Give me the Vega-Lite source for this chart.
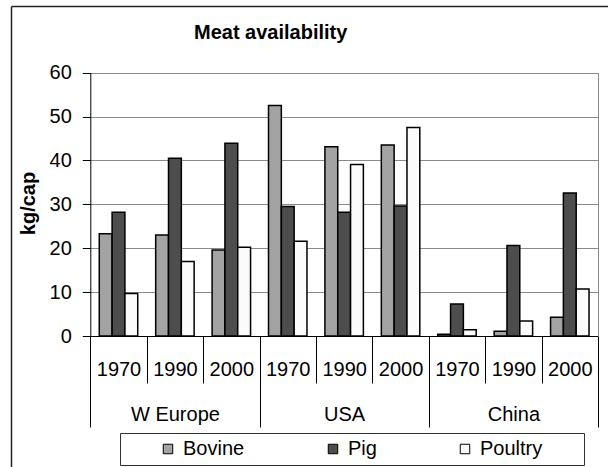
{
  "$schema": "https://vega.github.io/schema/vega-lite/v6.json",
  "width": 597,
  "height": 461,
  "autosize": {"type": "none"},
  "padding": {"left": 11, "top": 6, "right": 0, "bottom": 0},
  "background": "white",
  "title": {
    "text": "Meat availability",
    "anchor": "start",
    "frame": "group",
    "dx": 183,
    "offset": -53,
    "baseline": "alphabetic",
    "fontSize": 20,
    "fontWeight": "bold",
    "color": "#000"
  },
  "datasets": {
    "meat": [
      {"region": "W Europe", "year": "1970", "meat": "Bovine", "kg": 23.3},
      {"region": "W Europe", "year": "1970", "meat": "Pig", "kg": 28.2},
      {"region": "W Europe", "year": "1970", "meat": "Poultry", "kg": 9.7},
      {"region": "W Europe", "year": "1990", "meat": "Bovine", "kg": 23.0},
      {"region": "W Europe", "year": "1990", "meat": "Pig", "kg": 40.5},
      {"region": "W Europe", "year": "1990", "meat": "Poultry", "kg": 17.0},
      {"region": "W Europe", "year": "2000", "meat": "Bovine", "kg": 19.6},
      {"region": "W Europe", "year": "2000", "meat": "Pig", "kg": 43.9},
      {"region": "W Europe", "year": "2000", "meat": "Poultry", "kg": 20.2},
      {"region": "USA", "year": "1970", "meat": "Bovine", "kg": 52.5},
      {"region": "USA", "year": "1970", "meat": "Pig", "kg": 29.5},
      {"region": "USA", "year": "1970", "meat": "Poultry", "kg": 21.6},
      {"region": "USA", "year": "1990", "meat": "Bovine", "kg": 43.1},
      {"region": "USA", "year": "1990", "meat": "Pig", "kg": 28.2},
      {"region": "USA", "year": "1990", "meat": "Poultry", "kg": 39.1},
      {"region": "USA", "year": "2000", "meat": "Bovine", "kg": 43.5},
      {"region": "USA", "year": "2000", "meat": "Pig", "kg": 29.6},
      {"region": "USA", "year": "2000", "meat": "Poultry", "kg": 47.5},
      {"region": "China", "year": "1970", "meat": "Bovine", "kg": 0.4},
      {"region": "China", "year": "1970", "meat": "Pig", "kg": 7.3},
      {"region": "China", "year": "1970", "meat": "Poultry", "kg": 1.4},
      {"region": "China", "year": "1990", "meat": "Bovine", "kg": 1.1},
      {"region": "China", "year": "1990", "meat": "Pig", "kg": 20.6},
      {"region": "China", "year": "1990", "meat": "Poultry", "kg": 3.4},
      {"region": "China", "year": "2000", "meat": "Bovine", "kg": 4.3},
      {"region": "China", "year": "2000", "meat": "Pig", "kg": 32.6},
      {"region": "China", "year": "2000", "meat": "Poultry", "kg": 10.7}
    ],
    "regions": [
      {"region": "W Europe"},
      {"region": "USA"},
      {"region": "China"}
    ]
  },
  "layer": [
    {
      "data": {"name": "meat"},
      "transform": [{"calculate": "datum.region + '|' + datum.year", "as": "slot"}],
      "mark": {"type": "bar", "stroke": "#000", "strokeWidth": 1.5},
      "encoding": {
        "x": {
          "field": "slot",
          "type": "nominal",
          "sort": null,
          "scale": {"type": "band", "range": [79.3, 587], "paddingInner": 0, "paddingOuter": 0},
          "axis": {
            "title": null,
            "orient": "bottom",
            "offset": -131,
            "domainColor": "#000",
            "tickColor": "#000",
            "tickBand": "extent",
            "tickSize": 47,
            "labelPadding": -24,
            "labelExpr": "split(datum.label, '|')[1]",
            "labelFontSize": 20,
            "labelAngle": 0,
            "labelOverlap": false,
            "labelColor": "#000",
            "grid": false
          }
        },
        "xOffset": {
          "field": "meat",
          "type": "nominal",
          "sort": ["Bovine", "Pig", "Poultry"],
          "scale": {"paddingInner": 0, "paddingOuter": 0.7}
        },
        "y": {
          "field": "kg",
          "type": "quantitative",
          "scale": {"domain": [0, 60], "range": [330, 66.7], "nice": false, "zero": true},
          "axis": {
            "orient": "left",
            "offset": -79.3,
            "values": [0, 10, 20, 30, 40, 50, 60],
            "tickSize": 8,
            "tickColor": "#000",
            "domainColor": "#000",
            "labelPadding": 11,
            "labelFontSize": 20,
            "labelColor": "#000",
            "grid": true,
            "gridColor": "#8a8a8a",
            "gridOpacity": 1,
            "title": "kg/cap",
            "titleFontSize": 20,
            "titleFontWeight": "bold",
            "titleColor": "#000",
            "titleAngle": 270,
            "titleAlign": "center",
            "titleBaseline": "alphabetic",
            "titleX": -56,
            "titleY": 197
          }
        },
        "fill": {
          "field": "meat",
          "type": "nominal",
          "sort": ["Bovine", "Pig", "Poultry"],
          "scale": {"range": ["#a3a3a3", "#4d4d4d", "#fbfbfb"]},
          "legend": {
            "title": "\u00a0",
            "titleOrient": "right",
            "titleFontSize": 20,
            "titlePadding": 36,
            "orient": "none",
            "legendX": 109,
            "legendY": 427,
            "direction": "horizontal",
            "padding": 6,
            "fillColor": "#fff",
            "strokeColor": "#333",
            "symbolType": "square",
            "symbolSize": 90,
            "symbolStrokeColor": "#000",
            "symbolStrokeWidth": 1,
            "symbolOpacity": 1,
            "symbolOffset": 32,
            "labelFontSize": 20,
            "labelColor": "#000",
            "labelOffset": 5,
            "columnPadding": 46
          }
        }
      }
    },
    {
      "data": {"name": "regions"},
      "mark": {"type": "rule", "opacity": 0},
      "encoding": {
        "x": {
          "field": "region",
          "type": "nominal",
          "sort": null,
          "scale": {"type": "band", "range": [79.3, 587], "paddingInner": 0, "paddingOuter": 0},
          "axis": {
            "title": null,
            "orient": "bottom",
            "offset": -131,
            "domain": false,
            "tickBand": "extent",
            "tickSize": 91,
            "tickColor": "#000",
            "labelPadding": -22.5,
            "labelFontSize": 20,
            "labelAngle": 0,
            "labelColor": "#000",
            "labelOverlap": false,
            "grid": false
          }
        }
      }
    },
    {
      "data": {"name": "meat"},
      "mark": {"type": "point", "opacity": 0},
      "encoding": {
        "x": {
          "field": "kg",
          "type": "quantitative",
          "scale": {"range": [0, 597]},
          "axis": {
            "orient": "top",
            "offset": 0,
            "domainColor": "#222",
            "domainWidth": 1.5,
            "ticks": false,
            "labels": false,
            "grid": false,
            "title": null
          }
        },
        "y": {
          "field": "kg",
          "type": "quantitative",
          "scale": {"domain": [0, 60], "range": [330, 66.7], "nice": false},
          "axis": {
            "orient": "right",
            "offset": -10,
            "domainColor": "#8a8a8a",
            "ticks": false,
            "labels": false,
            "grid": false,
            "title": null
          }
        }
      }
    },
    {
      "data": {"name": "meat"},
      "mark": {"type": "point", "opacity": 0},
      "encoding": {
        "y": {
          "field": "kg",
          "type": "quantitative",
          "scale": {"range": [461, 0]},
          "axis": {
            "orient": "left",
            "offset": 0,
            "domainColor": "#222",
            "domainWidth": 1.5,
            "ticks": false,
            "labels": false,
            "grid": false,
            "title": null
          }
        }
      }
    }
  ],
  "resolve": {
    "scale": {"x": "independent", "y": "independent"},
    "axis": {"x": "independent", "y": "independent"}
  },
  "config": {
    "font": "Liberation Sans",
    "view": {"stroke": null}
  }
}
